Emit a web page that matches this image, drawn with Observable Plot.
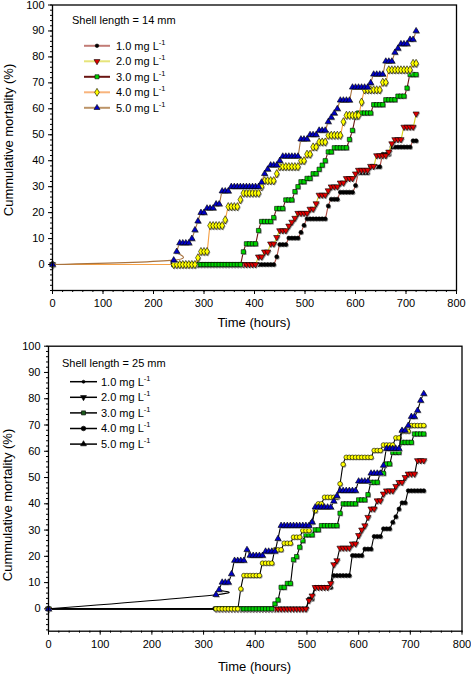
<!DOCTYPE html>
<html><head><meta charset="utf-8">
<script src="https://cdn.jsdelivr.net/npm/d3@7"></script>
<script src="https://cdn.jsdelivr.net/npm/@observablehq/plot@0.6"></script>
<style>
body{margin:0;background:#fff;}
#wrap{position:relative;width:471px;height:674px;font-family:"Liberation Sans",Arial,Helvetica,sans-serif;}
#wrap svg{position:absolute;left:0;overflow:visible;}
</style></head><body><div id="wrap"></div>
<script>
// ---------- data ----------
const seriesLabels = ["1.0 mg L", "2.0 mg L", "3.0 mg L", "4.0 mg L", "5.0 mg L"];
const xTicks = [0, 100, 200, 300, 400, 500, 600, 700, 800];
const yTicks = [0, 10, 20, 30, 40, 50, 60, 70, 80, 90, 100];

// Shell length = 14 mm
const hoursTop = [0,240,246,252,258,264,270,276,282,288,294,300,306,312,318,324,330,336,342,348,354,360,366,372,378,384,390,396,402,408,414,420,426,432,438,444,450,456,462,468,474,480,486,492,498,504,510,516,522,528,534,540,546,552,558,564,570,576,582,588,594,600,606,612,618,624,630,636,642,648,654,660,666,672,678,684,690,696,702,708,714,720];
const top10 = [0, 0,0,0,0,0,0,0,0,0,0,0,0,0,0,0,0,0,0,0,0,0,0,0,0,0,0,0,0,0,0,0,0,0,0, 3, 7.7,7.7,7.7, 10.2,10.2,10.2,10.2, 12.4, 15.1, 17.6,17.6,17.6,17.6,17.6,17.6,17.6, 22.6, 25.2,25.2,25.2, 27.9,27.9,27.9,27.9,27.9, 30.5, 35.4,35.4,35.4,35.4, 37.7,37.7,37.7,37.7, 42.5,42.5,42.5, 45.3,45.3,45.3,45.3,45.3,45.3,45.3, 47.7,47.7];
const top20 = [0, 0,0,0,0,0,0,0,0,0,0,0,0,0,0,0,0,0,0,0,0,0,0,0,0,0,0,0,0, 3,3, 4.9,4.9, 8,8, 10.5, 13.1,13.1,13.1, 14.9, 16.4, 17.9, 19.8,19.8,19.8,19.8, 21.4,21.4, 23.5, 26.8,26.8,26.8, 28.5, 30,30,30, 31.5,31.5, 33.2,33.2,33.2, 35, 36.4,36.4,36.4,36.4, 37.9,37.9, 42,42,42,42, 43.4, 46.6, 48.2,48.2,48.2, 53,53,53,53, 58.1];
const top30 = [0, 0,0,0,0,0,0,0,0,0,0,0,0,0,0,0,0,0,0,0,0,0,0,0, 4.9, 8,8,8,8, 13.1, 16.6,16.6,16.6,16.6, 18.1, 21.6,21.6,21.6, 24.9,24.9,24.9, 28.1, 30, 31.9,31.9, 33.2,33.2, 35,35, 36.7, 38.3, 40, 43.4,43.4, 45,45,45,45,45, 48.2, 51.7, 56.8, 58.4,58.4,58.4,58.4,58.4, 61.6,61.6,61.6,61.6, 63.5,63.5,63.5,63.5, 64.9,64.9,64.9, 68, 73.2,73.2,73.2];
const top40 = [0, 0,0,0,0,0,0,0,0, 2.6, 5,5,5, 15,15,15,15,15, 17.2, 22.3,22.3,22.3,22.3, 25, 27.5,27.5,27.5,27.5,27.5,27.5, 30, 32.3,32.3,32.3,32.3, 35, 37.7,37.7,37.7,37.7,37.7,37.7,37.7, 40,40, 42.5,42.5, 45.3,45.3, 47.2,47.2,47.2, 49.8,49.8,49.8,49.8,49.8, 55, 57.5,57.5,57.5,57.5,57.5, 62.6, 67.3,67.3,67.3,67.3,67.3,67.3, 70.2,70.2, 75,75,75,75,75,75,75,75, 77.5,77.5];
const top50 = [0, 1.7, 5, 8.3,8.3,8.3,8.3, 10, 13.3, 16.7, 20,20, 21.7,21.7,21.7, 23.3,23.3, 28.3,28.3,28.3, 30,30,30,30,30,30,30,30,30,30, 31.7, 35, 36.7, 38.3,38.3,38.3, 40, 41.7,41.7,41.7,41.7,41.7,41.7, 48.3,48.3,48.3, 50,50,50, 51.7,51.7,51.7, 55, 56.7, 58.3, 60, 63.3,63.3,63.3,63.3, 68.3,68.3,68.3,68.3,68.3,68.3, 70, 73.3,73.3,73.3,73.3, 78.3,78.3,78.3, 81.7, 83.3, 85,85,85, 86.7,86.7, 90];

// Shell length = 25 mm
const hoursBot = [0,324,330,336,342,348,354,360,366,372,378,384,390,396,402,408,414,420,426,432,438,444,450,456,462,468,474,480,486,492,498,504,510,516,522,528,534,540,546,552,558,564,570,576,582,588,594,600,606,612,618,624,630,636,642,648,654,660,666,672,678,684,690,696,702,708,714,720,726];
const bot10 = [0, 0,0,0,0,0,0,0,0,0,0,0,0,0,0,0,0,0,0,0,0,0,0,0,0,0,0,0,0,0,0, 3.8,3.8, 8.2,8.2,8.2,8.2,8.2,8.2, 12.7,12.7,12.7,12.7,12.7,12.7, 20.3,20.3,20.3,20.3, 22.8,22.8,22.8, 27.6,27.6,27.6, 30.5,30.5,30.5, 33, 35.1, 38, 40.4,40.4, 45,45,45,45,45,45];
const bot20 = [0, 0,0,0,0,0,0,0,0,0,0,0,0,0,0,0,0,0,0,0,0,0,0,0,0,0,0,0,0,0,0, 3.2, 5, 8.2,8.2,8.2,8.2,8.2, 9.7, 16.9, 18.4, 23.2,23.2,23.2,23.2, 24.8,24.8, 28, 30.1, 31.7, 34.9, 38.1,38.1, 41.2,41.2, 43.8, 45,45,45, 46.7, 48.2,48.2, 50.1, 51.4,51.4,51.4, 56.5,56.5,56.5];
const bot30 = [0, 0,0,0,0,0,0,0,0,0,0,0,0,0,0,0,0,0,0,0, 1.9, 3.4, 8.2,8.2, 9.7,9.7, 18.7, 19.9, 23.5, 26, 28.2,28.2,28.2, 30.1,30.1, 31.7,31.7,31.7,31.7,31.7,31.7, 36.4, 40,40,40,40,40, 41.5,41.5,41.5, 43.5, 48.2,48.2,48.2, 51.6,51.6, 55.2,55.2, 59.6,59.6,59.6, 63.4,63.4,63.4,63.4, 66.6,66.6,66.6,66.6];
const bot40 = [0, 0,0,0,0,0,0,0,0, 7.6, 12.7,12.7,12.7,12.7,12.7,12.7, 17.4,17.4,17.4,17.4, 22.5,22.5,22.5, 25,25,25, 27.3,27.3,27.3, 29.8,29.8,29.8, 33, 37.4, 40,40, 42.5,42.5,42.5,42.5,42.5, 47.6, 55, 57.7,57.7,57.7,57.7,57.7,57.7,57.7,57.7,57.7, 60.3,60.3,60.3, 62.4,62.4,62.4,62.4, 65.1,65.1, 67.6,67.6,67.6, 69.8,69.8,69.8,69.8,69.8];
const bot50 = [0, 5.4, 7.3, 10.1,10.1,10.1, 13.3, 18.4,18.4,18.4,18.4, 22.5, 20.3,20.3,20.3,20.3,20.3, 21.9,21.9,21.9,21.9, 26.7, 31.7,31.7,31.7,31.7,31.7,31.7,31.7,31.7,31.7,31.7, 33, 38.7,38.7,38.7,38.7,38.7,38.7, 41, 43, 45,45,45,45,45,45, 48.6,48.6,48.6,48.6, 51.6,51.6,51.6,51.6, 54.6, 61,61,61,61,61, 67.9,67.9, 69.8, 73.2,73.2, 75.5, 79.3, 81.9];

// ---------- styles ----------
const FONT = '"Liberation Sans", Arial, Helvetica, sans-serif';
const markersTop = [
  {symbol: "circle",   fill: "#000000", rotate: 0,   r: 2.0},
  {symbol: "triangle", fill: "#e10000", rotate: 180, r: 2.3},
  {symbol: "square",   fill: "#00d400", rotate: 0,   r: 2.4},
  {symbol: "diamond",  fill: "#ffff00", rotate: 0,   r: 2.5},
  {symbol: "triangle", fill: "#0000c8", rotate: 0,   r: 2.3}
];
const markersBot = [
  {symbol: "circle",   fill: "#000000", rotate: 0,   r: 2.0},
  {symbol: "triangle", fill: "#e10000", rotate: 180, r: 2.3},
  {symbol: "square",   fill: "#00d400", rotate: 0,   r: 2.4},
  {symbol: "circle",   fill: "#ffff00", rotate: 0,   r: 2.3},
  {symbol: "triangle", fill: "#0000c8", rotate: 0,   r: 2.3}
];
const topLineColors = ["#b04a40", "#d8d21c", "#6a1512", "#f6a044", "#a8733e"];
const topLegendColors = ["#c27c76", "#e6e47a", "#6a1512", "#f8b47c", "#bc9468"];

function rows(hours, vals) { return hours.map((h, i) => ({h, v: vals[i]})); }

function makePanel({hours, data, markers, lineColors, marginLeft, marginRight, marginTop, marginBottom, yMin}) {
  const marks = [];
  data.forEach((vals, i) => {
    const d = rows(hours, vals);
    const m = markers[i];
    marks.push(Plot.line(d, {x: "h", y: "v", stroke: lineColors[i], strokeWidth: 1.1, curve: "cardinal"}));
    marks.push(Plot.dot(d, {x: "h", y: "v", symbol: m.symbol, r: m.r, rotate: m.rotate, fill: "#9a9a9a", dx: 1, dy: 1}));
    marks.push(Plot.dot(d, {x: "h", y: "v", symbol: m.symbol, r: m.r, rotate: m.rotate, fill: m.fill, stroke: "#000", strokeWidth: 0.6}));
  });
  return Plot.plot({
    width: 471, height: 337,
    marginLeft, marginRight, marginTop, marginBottom,
    x: {domain: [0, 800]},
    y: {domain: [yMin, 100]},
    style: {fontFamily: FONT, fontSize: "11px", color: "#000", background: "transparent", overflow: "visible"},
    marks: [
      Plot.axisX({ticks: d3.range(0, 801, 20), tickSize: 2, tickFormat: () => "", label: null, strokeWidth: 1}),
      Plot.axisX({ticks: xTicks, tickSize: 4, tickPadding: 5, label: null, fontSize: 11, strokeWidth: 1}),
      Plot.axisY({ticks: d3.range(-10, 101, 2).filter(t => t >= yMin), tickSize: 2, tickFormat: () => "", label: null}),
      Plot.axisY({ticks: yTicks, tickSize: 4, tickPadding: 4, label: null, fontSize: 11}),
      ...marks,
      Plot.frame({stroke: "#000", strokeWidth: 1.3})
    ]
  });
}

function addLabels(svg, {xLabelX, xLabelY, yLabelX, yLabelY}) {
  const s = d3.select(svg);
  s.append("text").attr("x", xLabelX).attr("y", xLabelY).attr("text-anchor", "middle").attr("dy", "0.35em")
    .attr("font-family", FONT).attr("font-size", 13).attr("fill", "#000").text("Time (hours)");
  s.append("text").attr("transform", `translate(${yLabelX},${yLabelY}) rotate(-90)`).attr("text-anchor", "middle").attr("dy", "0.35em")
    .attr("font-family", FONT).attr("font-size", 13).attr("fill", "#000").text("Cummulative mortality (%)");
}

function addLegend(svg, {title, titleX, titleY, y0, dy, x1, x2, xt, lineColors, lineWidth, markers, markerFills, markerSizes}) {
  const s = d3.select(svg);
  s.append("text").attr("x", titleX).attr("y", titleY).attr("dy", "0.35em").attr("text-anchor", "start")
    .attr("font-family", FONT).attr("font-size", 11).attr("fill", "#000").text(title);
  const symMap = {circle: d3.symbolCircle, triangle: d3.symbolTriangle, square: d3.symbolSquare, diamond: d3.symbolDiamond};
  seriesLabels.forEach((lab, i) => {
    const y = y0 + i * dy;
    s.append("line").attr("x1", x1).attr("x2", x2).attr("y1", y).attr("y2", y)
      .attr("stroke", lineColors[i]).attr("stroke-width", lineWidth);
    const m = markers[i];
    const xm = (x1 + x2) / 2;
    const r = markerSizes[i];
    s.append("path").attr("d", d3.symbol(symMap[m.symbol], Math.PI * r * r)())
      .attr("transform", `translate(${xm},${y}) rotate(${m.rotate})`)
      .attr("fill", markerFills[i]).attr("stroke", "#000").attr("stroke-width", 0.6);
    const t = s.append("text").attr("x", xt).attr("y", y).attr("dy", "0.35em").attr("text-anchor", "start")
      .attr("font-family", FONT).attr("font-size", 11).attr("fill", "#000");
    t.append("tspan").text(lab);
    t.append("tspan").attr("dy", "-5").attr("font-size", 7.5).text("-1");
  });
}

const wrap = document.getElementById("wrap");

const topSvg = makePanel({hours: hoursTop, data: [top10, top20, top30, top40, top50], markers: markersTop, lineColors: topLineColors,
  marginLeft: 52, marginRight: 15, marginTop: 4.5, marginBottom: 47, yMin: -10});
topSvg.style.top = "0px";
addLabels(topSvg, {xLabelX: 254, xLabelY: 322, yLabelX: 8, yLabelY: 140});
addLegend(topSvg, {title: "Shell length = 14 mm", titleX: 72, titleY: 20, y0: 45.8, dy: 15.5, x1: 84, x2: 110, xt: 116,
  lineColors: topLegendColors, lineWidth: 2, markers: markersTop, markerFills: markersTop.map(m => m.fill),
  markerSizes: [1.8, 2.2, 2.3, 2.4, 2.2]});
wrap.appendChild(topSvg);

const botSvg = makePanel({hours: hoursBot, data: [bot10, bot20, bot30, bot40, bot50], markers: markersBot, lineColors: ["#000","#000","#000","#000","#000"],
  marginLeft: 48, marginRight: 9.5, marginTop: 8.7, marginBottom: 43.3, yMin: -8.5});
botSvg.style.top = "337px";
addLabels(botSvg, {xLabelX: 254.5, xLabelY: 329.7, yLabelX: 7, yLabelY: 168});
addLegend(botSvg, {title: "Shell length = 25 mm", titleX: 62, titleY: 25.7, y0: 44.7, dy: 15.6, x1: 70, x2: 97, xt: 101,
  lineColors: ["#000","#000","#000","#000","#000"], lineWidth: 1.5, markers: markersBot,
  markerFills: ["#000", "#000", "#1c5a1c", "#000", "#000"], markerSizes: [1.5, 2.2, 2.3, 2.3, 2.2]});
wrap.appendChild(botSvg);
</script></body></html>
